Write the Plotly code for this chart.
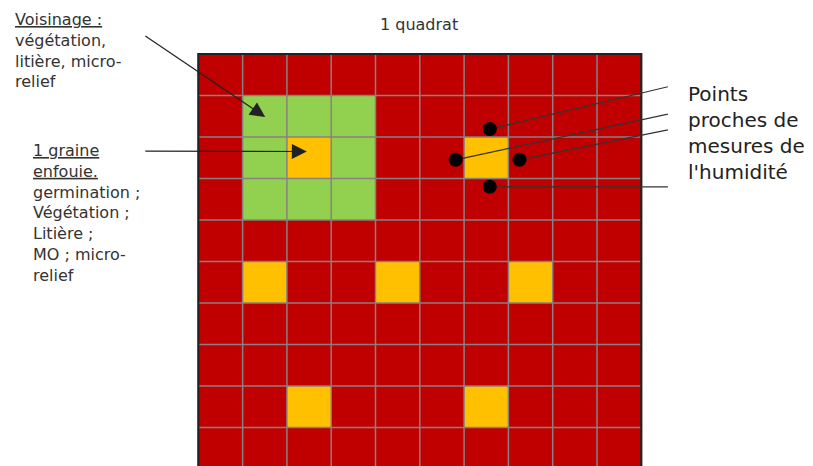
import plotly.graph_objects as go

# ---- data ----
n_rows = 10
n_cols = 10
# (row, col) cells, row 0 at top
green_cells = [(1, 1), (1, 2), (1, 3), (2, 1), (2, 3), (3, 1), (3, 2), (3, 3)]
orange_cells = [(2, 2), (2, 6), (5, 1), (5, 4), (5, 7), (8, 2), (8, 6)]

# humidity measurement points around the orange cell (col 6, row 2)
dot_x = [6.58, 5.81, 7.25, 6.58]
dot_y = [1.81, 2.55, 2.55, 3.20]
conn_end_x = [10.6, 10.6, 10.6, 10.6]
conn_end_y = [0.79, 1.45, 1.83, 3.20]

# arrows: (tail_x, tail_y) -> (tip_x, tip_y)
arrow_tail_x = [-1.23, -1.23]
arrow_tail_y = [-0.46, 2.34]
arrow_tip_x = [1.51, 2.45]
arrow_tip_y = [1.52, 2.35]

title_text = "1 quadrat"
label_voisinage = "<u>Voisinage :</u><br>végétation,<br>litière, micro-<br>relief"
label_graine = ("<u>1 graine</u><br><u>enfouie.</u><br>germination ;<br>Végétation ;"
                "<br>Litière ;<br>MO ; micro-<br>relief")
label_points = "Points<br>proches de<br>mesures de<br>l'humidité"

# ---- build matrix ----
z = [[0] * n_cols for _ in range(n_rows)]
for r, c in green_cells:
    z[r][c] = 1
for r, c in orange_cells:
    z[r][c] = 2

RED, GREEN, ORANGE = "#C00000", "#92D050", "#FFC000"
TXT = "#333333"
FONT = "DejaVu Sans"

fig = go.Figure()
fig.add_trace(go.Heatmap(
    z=z,
    x=[c + 0.5 for c in range(n_cols)],
    y=[r + 0.5 for r in range(n_rows)],
    colorscale=[[0, RED], [0.5, GREEN], [1, ORANGE]],
    zmin=0, zmax=2, showscale=False, hoverinfo="skip",
))

# grid lines
gx, gy = [], []
for i in range(1, n_cols):
    gx += [i, i, None]
    gy += [0, n_rows, None]
for j in range(1, n_rows):
    gx += [0, n_cols, None]
    gy += [j, j, None]
fig.add_trace(go.Scatter(x=gx, y=gy, mode="lines",
                         line=dict(color="#8a8080", width=1.5),
                         hoverinfo="skip", showlegend=False))

# border (left, top, right)
fig.add_trace(go.Scatter(x=[0, 0, n_cols, n_cols], y=[n_rows, 0, 0, n_rows],
                         mode="lines", line=dict(color="#222222", width=2.2),
                         hoverinfo="skip", showlegend=False))

# connector lines from dots
for x0, y0, x1, y1 in zip(dot_x, dot_y, conn_end_x, conn_end_y):
    fig.add_trace(go.Scatter(x=[x0, x1], y=[y0, y1], mode="lines",
                             line=dict(color="#333333", width=1.2),
                             hoverinfo="skip", showlegend=False))

# dots
fig.add_trace(go.Scatter(x=dot_x, y=dot_y, mode="markers",
                         marker=dict(color="black", size=14),
                         hoverinfo="skip", showlegend=False))

annotations = []
for tx, ty, hx, hy in zip(arrow_tail_x, arrow_tail_y, arrow_tip_x, arrow_tip_y):
    annotations.append(dict(
        x=hx, y=hy, xref="x", yref="y", ax=tx, ay=ty, axref="x", ayref="y",
        text="", showarrow=True, arrowhead=2, arrowsize=2.5, arrowwidth=1.2,
        arrowcolor="#222222", standoff=0, startstandoff=0,
    ))

annotations.append(dict(x=4.98, y=-0.70, xref="x", yref="y", text=title_text,
                        showarrow=False, xanchor="center", yanchor="middle",
                        font=dict(family=FONT, size=16, color=TXT)))
annotations.append(dict(x=-4.18, y=-1.10, xref="x", yref="y", text=label_voisinage,
                        showarrow=False, xanchor="left", yanchor="top", align="left",
                        font=dict(family=FONT, size=16, color=TXT)))
annotations.append(dict(x=-3.78, y=2.06, xref="x", yref="y", text=label_graine,
                        showarrow=False, xanchor="left", yanchor="top", align="left",
                        font=dict(family=FONT, size=16, color=TXT)))
annotations.append(dict(x=11.0, y=0.63, xref="x", yref="y", text=label_points,
                        showarrow=False, xanchor="left", yanchor="top", align="left",
                        font=dict(family=FONT, size=20, color="#222222")))

# the page body adds an 8px offset: figure covers page pixels 8..813 x 8..466
fig.update_layout(
    width=805, height=458,
    margin=dict(l=0, r=0, t=0, b=0),
    paper_bgcolor="white", plot_bgcolor="white",
    showlegend=False,
    annotations=annotations,
    xaxis=dict(range=[-4.296, 13.876], visible=False, fixedrange=True),
    yaxis=dict(range=[9.928, -1.108], visible=False, fixedrange=True),
)

fig.write_html("out.html")
